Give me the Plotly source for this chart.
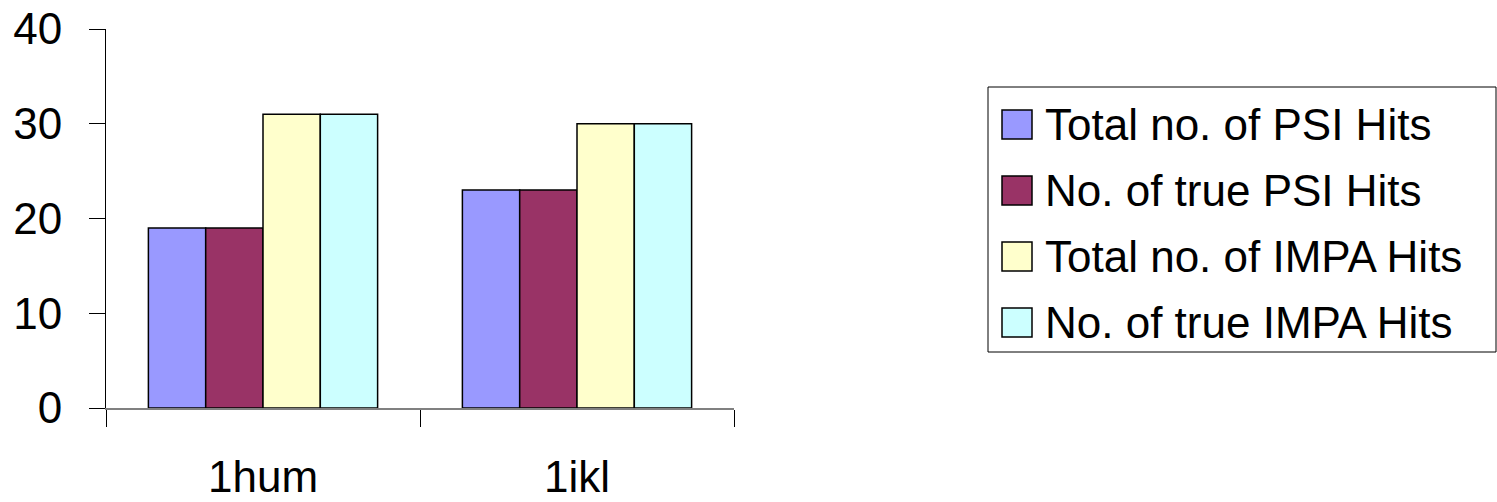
import plotly.graph_objects as go

categories = ["1hum", "1ikl"]
series_names = ["Total no. of PSI Hits", "No. of true PSI Hits",
                "Total no. of IMPA Hits", "No. of true IMPA Hits"]
total_psi = [19, 23]
true_psi = [19, 23]
total_impa = [31, 30]
true_impa = [31, 30]
colors = ["#9999FF", "#993366", "#FFFFCC", "#CCFFFF"]
y_ticks = [0, 10, 20, 30, 40]

series_values = [total_psi, true_psi, total_impa, true_impa]

W, H = 1497, 502
L, R, T, B = 106, 763, 29, 94
pw, ph = W - L - R, H - T - B

FONT = "Liberation Sans, Arial, sans-serif"

fig = go.Figure()
for name, vals, col in zip(series_names, series_values, colors):
    fig.add_trace(go.Bar(
        x=categories, y=vals, name=name,
        marker=dict(color=col, line=dict(color="#000000", width=1.5)),
        showlegend=False,
    ))

def px2x(px):
    return (px - L) / pw

def px2y(py):
    return (H - B - py) / ph

shapes = []
annotations = []
# legend box
shapes.append(dict(type="rect", xref="paper", yref="paper",
                   x0=px2x(988), x1=px2x(1496), y0=px2y(352), y1=px2y(87),
                   line=dict(color="#000000", width=1), fillcolor="rgba(0,0,0,0)"))
for i, (name, col) in enumerate(zip(series_names, colors)):
    cy = 124.5 + 66 * i
    shapes.append(dict(type="rect", xref="paper", yref="paper",
                       x0=px2x(1002), x1=px2x(1032),
                       y0=px2y(cy + 14.5), y1=px2y(cy - 14.5),
                       line=dict(color="#000000", width=1.5), fillcolor=col))
    annotations.append(dict(xref="paper", yref="paper", x=px2x(1043), y=px2y(cy),
                            text=name, showarrow=False, xanchor="left", yanchor="middle",
                            font=dict(family=FONT, size=44, color="#000000")))

fig.update_layout(
    width=W, height=H,
    margin=dict(l=L, r=R, t=T, b=B, pad=0),
    paper_bgcolor="white", plot_bgcolor="white",
    barmode="group", bargap=0.27, bargroupgap=0,
    font=dict(family=FONT, size=44, color="#000000"),
    shapes=shapes, annotations=annotations,
    showlegend=False,
)
fig.update_xaxes(
    type="category", showline=True, linecolor="#808080", linewidth=1.5,
    ticks="outside", ticklen=17, tickcolor="#000000", tickwidth=1,
    tickson="boundaries", showgrid=False, zeroline=False, automargin=False,
    ticklabelstandoff=29,
    tickfont=dict(family=FONT, size=44, color="#000000"),
)
fig.update_yaxes(
    range=[0, 40], tickvals=y_ticks, showline=True, linecolor="#000000", linewidth=1,
    ticks="outside", ticklen=16, tickcolor="#000000", tickwidth=1,
    showgrid=False, zeroline=False, automargin=False, ticklabelstandoff=18,
    tickfont=dict(family=FONT, size=44, color="#000000"),
)

fig.write_html(
    "out.html",
    config={"displayModeBar": False},
    post_script="document.body.style.margin='0';document.body.style.padding='0';"
                "document.body.style.overflow='hidden';",
)
